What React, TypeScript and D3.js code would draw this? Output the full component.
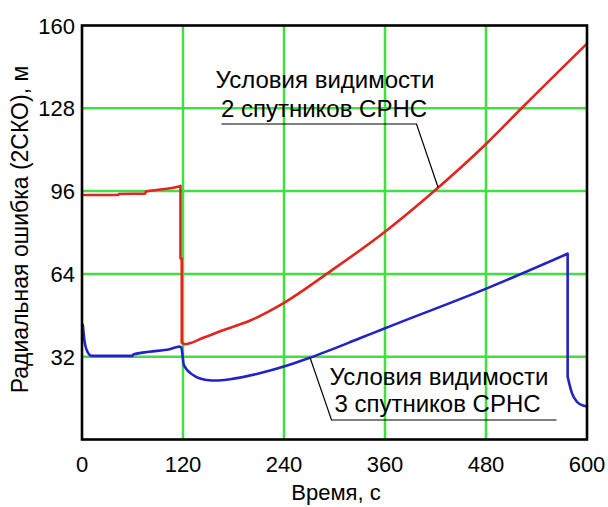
import React from "react";
import * as d3 from "d3";

const xTicks = [0, 120, 240, 360, 480, 600];
const yTicks = [32, 64, 96, 128, 160];

const redTime = [0, 43, 44, 75, 76, 96, 114, 117, 117, 118.5, 118.5, 122, 144, 170, 200, 240, 295, 360, 413, 481, 524, 600];
const redValue = [94.5, 94.5, 94.9, 95.0, 95.8, 96.7, 97.7, 98.0, 70.0, 70.0, 37.5, 36.8, 39.3, 42.5, 46.0, 52.8, 65.0, 80.3, 94.5, 114.5, 128.6, 153.0];

const blueTime = [1, 3, 5.5, 11.5, 60, 61, 80, 104, 116, 118, 121, 132, 148, 160, 176, 211, 239, 269, 330, 360, 481, 577, 577, 582, 588, 596, 600];
const blueValue = [44.3, 38.0, 34.6, 32.3, 32.3, 32.9, 33.9, 34.9, 35.9, 35.5, 28.8, 24.9, 23.0, 22.8, 23.3, 25.6, 28.1, 31.4, 39.1, 43.0, 58.4, 71.8, 24.3, 18.0, 14.6, 13.0, 12.8];

const redLabel = ["Условия видимости", "2 спутников СРНС"];
const blueLabel = ["Условия видимости", "3 спутников СРНС"];
const xTitle = "Время, с";
const yTitle = "Радиальная ошибка (2СКО), м";

const W = 608;
const H = 507;
const M = { left: 82, right: 21, top: 25.5, bottom: 67.5 };

type P = [number, number];

function buildPath(pts: P[], x: d3.ScaleLinear<number, number>, y: d3.ScaleLinear<number, number>) {
  const smooth = d3.line<P>().x((d) => x(d[0])).y((d) => y(d[1])).curve(d3.curveMonotoneX);
  const straight = d3.line<P>().x((d) => x(d[0])).y((d) => y(d[1]));
  const parts: string[] = [];
  let seg: P[] = [pts[0]];
  for (let i = 1; i < pts.length; i++) {
    if (pts[i][0] === pts[i - 1][0]) {
      if (seg.length > 1) parts.push(smooth(seg) || "");
      parts.push(straight([pts[i - 1], pts[i]]) || "");
      seg = [pts[i]];
    } else {
      seg.push(pts[i]);
    }
  }
  if (seg.length > 1) parts.push(smooth(seg) || "");
  return parts.join(" ");
}

export default function App() {
  const x = d3.scaleLinear().domain([0, 600]).range([M.left, W - M.right]);
  const y = d3.scaleLinear().domain([0, 160]).range([H - M.bottom, M.top]);
  const redPts = redTime.map((t, i) => [t, redValue[i]] as P);
  const bluePts = blueTime.map((t, i) => [t, blueValue[i]] as P);
  const font = "Arial, 'Liberation Sans', sans-serif";
  const green = "#3fe03f";

  const rA = [x(423), y(97.5)];
  const bA = [x(271), y(31.6)];

  return (
    <svg
      width={W}
      height={H}
      style={{ position: "absolute", left: 0, top: 0, background: "#fff" }}
      fontFamily={font}
    >
      <rect x={0} y={0} width={W} height={H} fill="#fff" />
      {xTicks
        .filter((t) => t > 0 && t < 600)
        .map((t) => (
          <line key={"gx" + t} x1={x(t)} x2={x(t)} y1={y(0)} y2={y(160)} stroke={green} strokeWidth={2.5} />
        ))}
      {yTicks
        .filter((t) => t < 160)
        .map((t) => (
          <line key={"gy" + t} x1={x(0)} x2={x(600)} y1={y(t)} y2={y(t)} stroke={green} strokeWidth={2.5} />
        ))}
      <path d={buildPath(redPts, x, y)} fill="none" stroke="#e0261f" strokeWidth={2.6} strokeLinejoin="round" strokeLinecap="round" />
      <path d={buildPath(bluePts, x, y)} fill="none" stroke="#2323c4" strokeWidth={2.6} strokeLinejoin="round" strokeLinecap="round" />
      <rect x={x(0)} y={y(160)} width={x(600) - x(0)} height={y(0) - y(160)} fill="none" stroke="#000" strokeWidth={2.6} />

      {xTicks.map((t) => (
        <text key={"xt" + t} x={x(t)} y={472} textAnchor="middle" fontSize={22} fill="#000">
          {t}
        </text>
      ))}
      {yTicks.map((t) => (
        <text key={"yt" + t} x={75} y={y(t) + 8} textAnchor="end" fontSize={22} fill="#000">
          {t}
        </text>
      ))}
      <text x={336} y={500} textAnchor="middle" fontSize={22} fill="#000">
        {xTitle}
      </text>
      <text
        transform={`translate(28,${(y(0) + y(160)) / 2 - 3}) rotate(-90)`}
        textAnchor="middle"
        fontSize={23}
        fill="#000"
      >
        {yTitle}
      </text>

      <text x={325} y={88} textAnchor="middle" fontSize={24} fill="#000">
        {redLabel[0]}
      </text>
      <text x={324} y={116.5} textAnchor="middle" fontSize={24} fill="#000">
        {redLabel[1]}
      </text>
      <polyline points={`221.5,124 416.5,124 ${rA[0]},${rA[1]}`} fill="none" stroke="#000" strokeWidth={1.2} />

      <text x={439} y={385} textAnchor="middle" fontSize={24} fill="#000">
        {blueLabel[0]}
      </text>
      <text x={437.5} y={411.5} textAnchor="middle" fontSize={24} fill="#000">
        {blueLabel[1]}
      </text>
      <polyline points={`${bA[0]},${bA[1]} 331.5,420 556.5,420`} fill="none" stroke="#000" strokeWidth={1.2} />
    </svg>
  );
}
